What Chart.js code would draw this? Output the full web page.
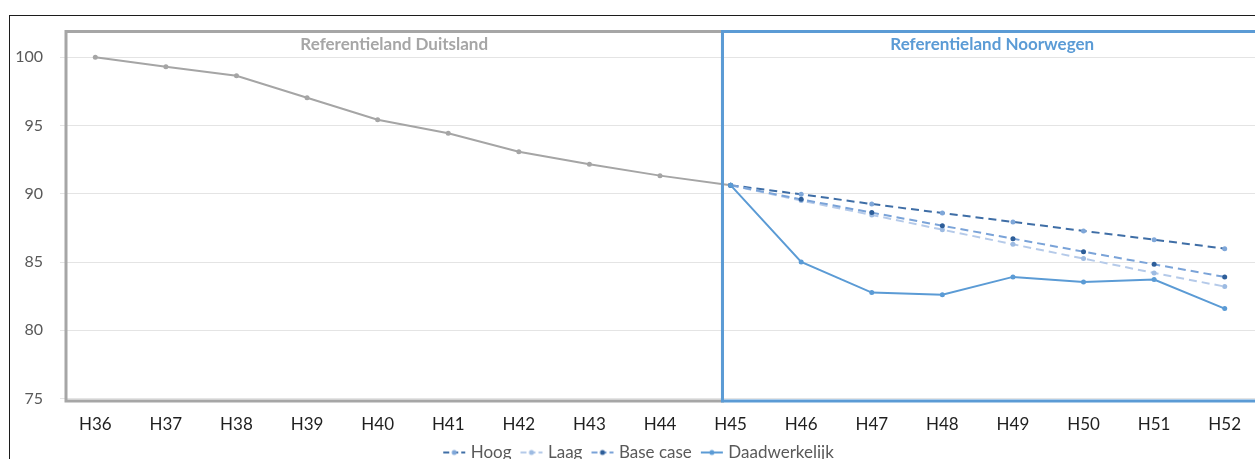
<!DOCTYPE html>
<html>
<head>
<meta charset="utf-8">
<script src="https://cdn.jsdelivr.net/npm/chart.js@4.4.1/dist/chart.umd.min.js"></script>
<style>
  html, body { margin: 0; padding: 0; overflow: hidden; background: #fff; width: 1255px; height: 459px; }
  canvas { display: block; }
</style>
</head>
<body>
<canvas id="c" width="1275" height="479"></canvas>
<script>
// Half-year periods on the x axis
const categories = ['H36','H37','H38','H39','H40','H41','H42','H43','H44','H45','H46','H47','H48','H49','H50','H51','H52'];

// Index values (H36 = 100)
const duitsland      = [100, 99.30, 98.65, 97.04, 95.42, 94.44, 93.08, 92.17, 91.33, 90.63, null, null, null, null, null, null, null];
const hoog           = [null, null, null, null, null, null, null, null, null, 90.63, 89.96, 89.25, 88.59, 87.94, 87.28, 86.64, 85.98];
const laag           = [null, null, null, null, null, null, null, null, null, 90.63, 89.50, 88.45, 87.37, 86.30, 85.25, 84.20, 83.20];
const baseCase       = [null, null, null, null, null, null, null, null, null, 90.63, 89.59, 88.62, 87.66, 86.71, 85.76, 84.83, 83.91];
const daadwerkelijk  = [null, null, null, null, null, null, null, null, null, 90.63, 85.01, 82.76, 82.61, 83.91, 83.54, 83.71, 81.59];

const yTicks = [75, 80, 85, 90, 95, 100];
const yMin = 75, yMax = 102;

// Reference-country panels, split at this period
const splitAt = 'H45';
const regionTitles = ['Referentieland Duitsland', 'Referentieland Noorwegen'];

const FONT = 'Lato, "Open Sans", "Liberation Sans", sans-serif';
const GREY = '#A5A5A5';
const BLUE = '#5B9BD5';

// Small legend swatch: line segment with a marker in the middle
function swatch(lineColor, dotColor, dashed) {
  const c = document.createElement('canvas');
  c.width = 26; c.height = 8;
  const g = c.getContext('2d');
  g.strokeStyle = lineColor;
  g.lineWidth = 2;
  if (dashed) g.setLineDash([6, 3]);
  g.beginPath(); g.moveTo(2, 4); g.lineTo(24, 4); g.stroke();
  g.setLineDash([]);
  g.fillStyle = dotColor;
  g.beginPath(); g.arc(13, 4, 2.5, 0, Math.PI * 2); g.fill();
  return c;
}

const panels = {
  id: 'panels',
  afterLayout(chart) {
    // nudge the legend row a little to the right
    chart.legend.left += 10;
    chart.legend.right += 10;
  },
  beforeDraw(chart) {
    const ctx = chart.ctx;
    ctx.save();
    ctx.strokeStyle = '#1c1c1c';
    ctx.lineWidth = 1;
    ctx.strokeRect(9.5, 15.5, chart.width + 20, chart.height + 20);
    ctx.restore();
  },
  afterDatasetsDraw(chart) {
    const { ctx, chartArea: a, scales: { x } } = chart;
    const step = x.getPixelForValue(1) - x.getPixelForValue(0);
    const split = x.getPixelForValue(categories.indexOf(splitAt)) - 0.115 * step;
    const top = a.top + 1.5, bottom = a.bottom + 2.5;
    const left = a.left + 6, right = a.right + 2;
    ctx.save();
    ctx.lineWidth = 3;
    ctx.strokeStyle = '#A6A6A6';
    ctx.strokeRect(left, top, split - left, bottom - top);
    ctx.strokeStyle = BLUE;
    ctx.strokeRect(split, top, right - split, bottom - top);

    ctx.font = 'bold 17px ' + FONT;
    ctx.textAlign = 'center';
    ctx.textBaseline = 'middle';
    ctx.fillStyle = '#A6A6A6';
    ctx.fillText(regionTitles[0], (left + split) / 2, a.top + 15);
    ctx.fillStyle = BLUE;
    ctx.fillText(regionTitles[1], (split + right) / 2, a.top + 15);
    ctx.restore();
  }
};

const lineBase = { borderWidth: 2, pointRadius: 2.5, pointHoverRadius: 2.5, pointBorderWidth: 0, tension: 0, spanGaps: false, fill: false };

new Chart(document.getElementById('c'), {
  type: 'line',
  data: {
    labels: categories,
    datasets: [
      Object.assign({ label: 'Duitsland', data: duitsland, borderColor: GREY, pointBackgroundColor: GREY, order: 5 }, lineBase),
      Object.assign({ label: 'Hoog', data: hoog, borderColor: '#3F6EA6', pointBackgroundColor: '#7FA7D9', borderDash: [8, 5], order: 4 }, lineBase),
      Object.assign({ label: 'Laag', data: laag, borderColor: '#B5CAE9', pointBackgroundColor: '#9DBBE2', borderDash: [8, 5], order: 3 }, lineBase),
      Object.assign({ label: 'Base case', data: baseCase, borderColor: '#7AA3D8', pointBackgroundColor: '#2E5E99', borderDash: [8, 5], order: 2 }, lineBase),
      Object.assign({ label: 'Daadwerkelijk', data: daadwerkelijk, borderColor: BLUE, pointBackgroundColor: BLUE, order: 1 }, lineBase)
    ]
  },
  options: {
    responsive: false,
    animation: false,
    layout: { padding: { top: 30, right: 15, bottom: 8, left: 0 } },
    scales: {
      x: {
        offset: true,
        grid: { display: false, offset: true },
        border: { display: false },
        ticks: { color: '#1f1f1f', font: { family: FONT, size: 17 }, padding: 7.5, maxRotation: 0, autoSkip: false },
        afterFit(s) { s.height = 33.5; }
      },
      y: {
        min: yMin, max: yMax,
        afterBuildTicks(s) { s.ticks = yTicks.map(v => ({ value: v })); },
        grid: { color: '#E4E4E4', lineWidth: 1, drawTicks: false },
        border: { display: false },
        ticks: { color: '#595959', font: { family: FONT, size: 16 }, padding: 17 },
        afterFit(s) { s.width = 60; }
      }
    },
    plugins: {
      tooltip: { enabled: false },
      legend: {
        position: 'bottom',
        labels: {
          color: '#595959',
          font: { family: FONT, size: 17 },
          usePointStyle: true,
          pointStyleWidth: 16,
          padding: 12,
          filter: item => item.datasetIndex > 0,
          generateLabels(chart) {
            return chart.data.datasets.map((d, i) => ({
              text: d.label,
              datasetIndex: i,
              fontColor: '#595959',
              pointStyle: swatch(d.borderColor, d.pointBackgroundColor, !!d.borderDash),
              lineWidth: 0,
              strokeStyle: 'transparent',
              fillStyle: 'transparent',
              hidden: false
            }));
          }
        }
      }
    }
  },
  plugins: [panels]
});
</script>
</body>
</html>
